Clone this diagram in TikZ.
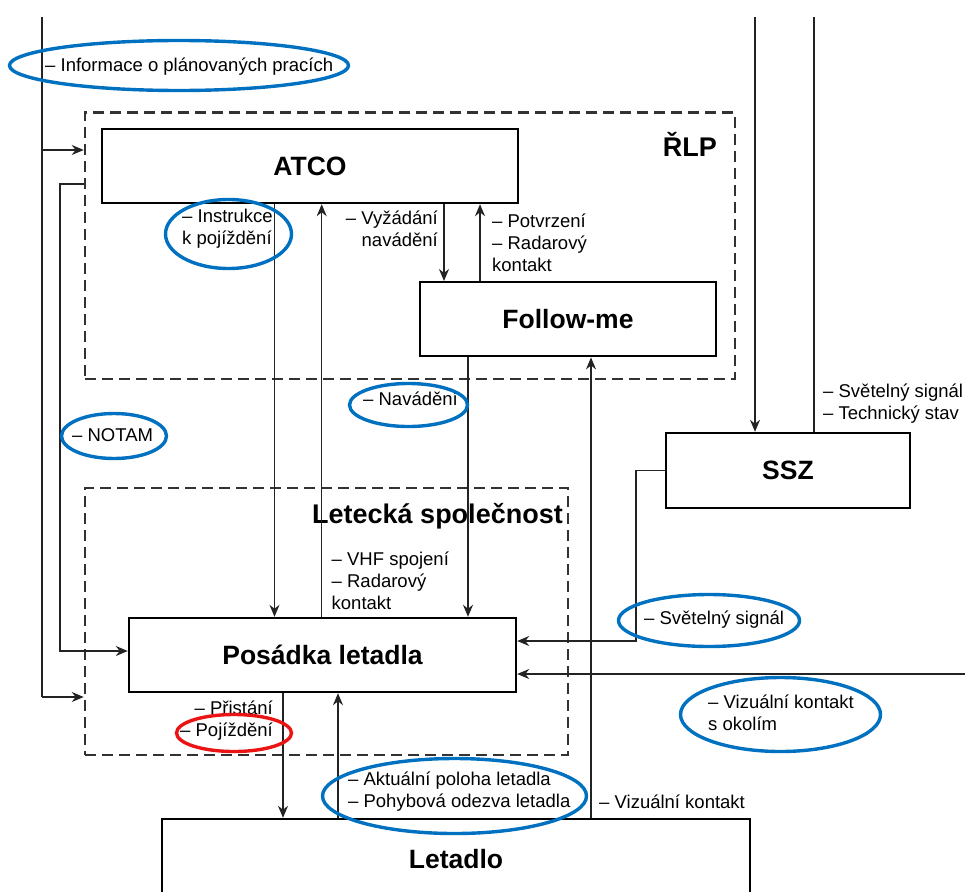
\documentclass[tikz,border=0pt]{standalone}
\usepackage{fontspec}
\setmainfont{Liberation Sans}
\usetikzlibrary{arrows.meta,shapes.geometric}
\definecolor{ringblue}{RGB}{0,112,192}
\definecolor{ringred}{RGB}{235,20,20}
\definecolor{wirecol}{RGB}{35,35,35}
\definecolor{framegray}{RGB}{50,50,50}
\begin{document}
\begin{tikzpicture}[x=1pt,y=-1pt,
  box/.style={draw=black, line width=2.4pt, rectangle, inner sep=0pt,
    font=\fontsize{26.5}{30}\selectfont\bfseries},
  group/.style={draw=framegray, line width=2.5pt, dash pattern=on 11pt off 6pt,
    rectangle, inner sep=0pt},
  wire/.style={draw=wirecol, line width=1.4pt},
  arr/.style={wire, -{Stealth[length=12pt,width=10pt]}},
  note/.style={inner sep=0pt, font=\fontsize{18.5}{22}\selectfont, align=left},
  noteR/.style={note, align=right},
  title/.style={inner sep=0pt, font=\fontsize{27}{30}\selectfont\bfseries},
  ring/.style={ellipse, draw=ringblue, line width=3.4pt, inner sep=0pt},
  redring/.style={ring, draw=ringred},
]
\useasboundingbox (0,0) rectangle (965,891);
\clip (0,0) rectangle (965,891);

% group frames
\node[group, minimum width=650pt, minimum height=266.3pt] (rlp) at (410,245.85) {};
\node[group, minimum width=483pt, minimum height=267pt] (letecka) at (326.5,621.5) {};
\node[title, anchor=base east] (rlpT) at (717,156.5) {ŘLP};
\node[title, anchor=base east] (leteckaT) at (563,523) {Letecká společnost};

% actors
\node[box, minimum width=416pt, minimum height=74pt] (atco) at (310,166) {ATCO};
\node[box, minimum width=296pt, minimum height=74pt] (follow) at (568,319.2) {Follow-me};
\node[box, minimum width=244pt, minimum height=75pt] (ssz) at (788,470.5) {SSZ};
\node[box, minimum width=387pt, minimum height=74pt] (posadka) at (322.5,655) {Posádka letadla};
\node[box, minimum width=588pt, minimum height=80pt] (letadlo) at (456,859) {Letadlo};

% helper coordinates for routing
\coordinate (topL) at (42,17);
\coordinate (lA) at (42,150);
\coordinate (lB) at (42,697);
\coordinate (nA) at (60,184);
\coordinate (nB) at (60,651);
\coordinate (x1) at (274.5,0);
\coordinate (x2) at (321.7,0);
\coordinate (x3) at (444,0);
\coordinate (x4) at (480,0);
\coordinate (x5) at (468,0);
\coordinate (x6) at (591,0);
\coordinate (x7) at (283,0);
\coordinate (x8) at (338,0);
\coordinate (topS1) at (755,17);
\coordinate (topS2) at (814,17);
\coordinate (sA) at (636,470.5);
\coordinate (sB) at (636,641);
\coordinate (rightE) at (965,674);

% external information flows on the left
\draw[wire] (topL) -- (lB);
\draw[arr] (lA) -- (rlp.west |- lA);
\draw[arr] (lB) -- (letecka.west |- lB);
\draw[arr] (rlp.west |- nA) -- (nA) -- (nB) -- (posadka.west |- nB);

% ATCO <-> crew
\draw[arr] (atco.south -| x1) -- (posadka.north -| x1);
\draw[arr] (posadka.north -| x2) -- (atco.south -| x2);
% ATCO <-> Follow-me
\draw[arr] (atco.south -| x3) -- (follow.north -| x3);
\draw[arr] (follow.north -| x4) -- (atco.south -| x4);
% Follow-me -> crew, aircraft -> Follow-me
\draw[arr] (follow.south -| x5) -- (posadka.north -| x5);
\draw[arr] (letadlo.north -| x6) -- (follow.south -| x6);
% crew <-> aircraft
\draw[arr] (posadka.south -| x7) -- (letadlo.north -| x7);
\draw[arr] (letadlo.north -| x8) -- (posadka.south -| x8);
% SSZ
\draw[arr] (topS1) -- (ssz.north -| topS1);
\draw[wire] (ssz.north -| topS2) -- (topS2);
\draw[arr] (ssz.west) -- (sA) -- (sB) -- (posadka.east |- sB);
\draw[arr] (rightE) -- (posadka.east |- rightE);

% labels
\node[note, anchor=base west] (lInfo) at (45,71) {– Informace o plánovaných pracích};
\node[note, anchor=west] (lInstr) at (182,229) {\fontsize{18.5}{21}\selectfont – Instrukce\\k pojíždění};
\node[noteR, anchor=east] (lVyz) at (438,229) {\fontsize{18.5}{21}\selectfont – Vyžádání\\navádění};
\node[note, anchor=west] (lPotv) at (492,243) {\fontsize{18.5}{22.5}\selectfont – Potvrzení\\– Radarový\\kontakt};
\node[note, anchor=base west] (lNav) at (363,405) {– Navádění};
\node[note, anchor=base west] (lNotam) at (72,441) {– NOTAM};
\node[note, anchor=west] (lSsz) at (823,403.6) {\fontsize{18.5}{20}\selectfont – Světelný signál\\– Technický stav};
\node[note, anchor=west] (lVhf) at (331.5,580.6) {– VHF spojení\\– Radarový\\kontakt};
\node[note, anchor=base west] (lSvet) at (644,624.6) {– Světelný signál};
\node[note, anchor=west] (lOkoli) at (708,712.6) {\fontsize{18.5}{24}\selectfont – Vizuální kontakt\\s okolím};
\node[noteR, anchor=east] (lPrist) at (273,721) {\fontsize{18.5}{23}\selectfont – Přistání\\– Pojíždění};
\node[note, anchor=west] (lPoloha) at (348,791.6) {– Aktuální poloha letadla\\– Pohybová odezva letadla};
\node[note, anchor=base west] (lViz) at (599,808.6) {– Vizuální kontakt};

% highlight rings
\node[ring, minimum width=339pt, minimum height=50pt] (rInfo) at (179,65.5) {};
\node[ring, minimum width=126pt, minimum height=69pt] (rInstr) at (228.5,234) {};
\node[ring, minimum width=118pt, minimum height=43pt] (rNav) at (408.5,405) {};
\node[ring, minimum width=105pt, minimum height=45pt] (rNotam) at (114,436) {};
\node[ring, minimum width=181pt, minimum height=52pt] (rSvet) at (709,620.5) {};
\node[ring, minimum width=200pt, minimum height=74pt] (rOkoli) at (780.5,714.5) {};
\node[ring, minimum width=264pt, minimum height=75pt] (rPoloha) at (454.5,796) {};
\node[redring, minimum width=115pt, minimum height=37pt] (rPoj) at (234,733) {};
\end{tikzpicture}
\end{document}
